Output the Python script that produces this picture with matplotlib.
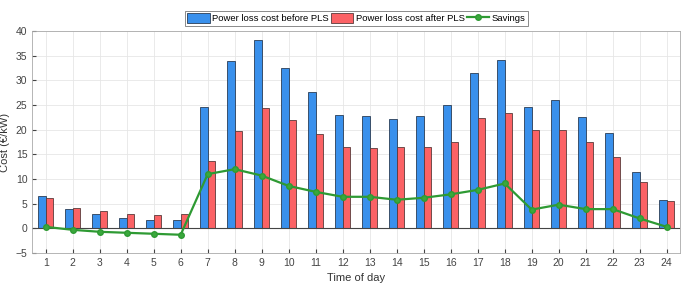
import numpy as np
import matplotlib.pyplot as plt

plt.rcParams['font.family'] = ['Liberation Sans', 'DejaVu Sans']

# Data
hours = np.arange(1, 25)
before = [6.5, 3.9, 2.9, 2.0, 1.7, 1.6, 24.6, 34.0, 38.1, 32.5, 27.6, 23.0,
          22.7, 22.2, 22.8, 25.1, 31.6, 34.1, 24.6, 26.1, 22.6, 19.3, 11.5, 5.7]
after = [6.2, 4.2, 3.6, 2.9, 2.7, 2.9, 13.6, 19.7, 24.4, 21.9, 19.2, 16.6,
         16.3, 16.4, 16.5, 17.6, 22.3, 23.4, 19.9, 19.9, 17.6, 14.5, 9.4, 5.5]
savings = [0.3, -0.3, -0.7, -0.9, -1.1, -1.3, 11.0, 12.0, 10.7, 8.6, 7.4, 6.4,
           6.4, 5.8, 6.2, 6.9, 7.8, 9.1, 3.8, 4.8, 3.9, 3.9, 2.0, 0.3]

fig = plt.figure(figsize=(6.85, 2.83), dpi=100)
ax = fig.add_axes([0.047, 0.106, 0.946, 0.784])

w = 0.27
b1 = ax.bar(hours - w / 2, before, w, color='#3990ec', edgecolor='#2a3d55',
            linewidth=0.6, label='Power loss cost before PLS', zorder=2)
b2 = ax.bar(hours + w / 2, after, w, color='#fb6265', edgecolor='#5a3a3a',
            linewidth=0.6, label='Power loss cost after PLS', zorder=2)
ln, = ax.plot(hours, savings, '-o', color='#2e9a33', lw=1.6, ms=4,
              markerfacecolor='#3aa83c', markeredgecolor='#2e9a33',
              label='Savings', zorder=3)
ax.axhline(0, color='#444444', lw=0.8, zorder=2.5)

ax.set_xlim(0.5, 24.5)
ax.set_ylim(-5, 40)
ax.set_xticks(hours)
ax.set_yticks(np.arange(-5, 41, 5))
ax.grid(True, color='#e6e6e6', lw=0.6, zorder=0)
ax.set_axisbelow(True)
ax.tick_params(direction='in', labelsize=7.5, colors='#444444', length=3)
for s in ax.spines.values():
    s.set_color('#aaaaaa')
    s.set_linewidth(0.6)
ax.set_xlabel('Time of day', fontsize=8, color='#333333')
ax.set_ylabel('Cost (€/kW)', fontsize=8, color='#333333')

leg = ax.legend([b1, b2, ln], [b1.get_label(), b2.get_label(), ln.get_label()],
                loc='lower center', bbox_to_anchor=(0.5, 1.025), ncol=3,
                fontsize=6.8, frameon=True, fancybox=False, borderpad=0.25,
                handlelength=2.4, handleheight=1.1, handletextpad=0.25,
                columnspacing=0.2, borderaxespad=0)
leg.get_frame().set_edgecolor('#555555')
leg.get_frame().set_linewidth(0.6)

fig.savefig('out.png', dpi=100)
